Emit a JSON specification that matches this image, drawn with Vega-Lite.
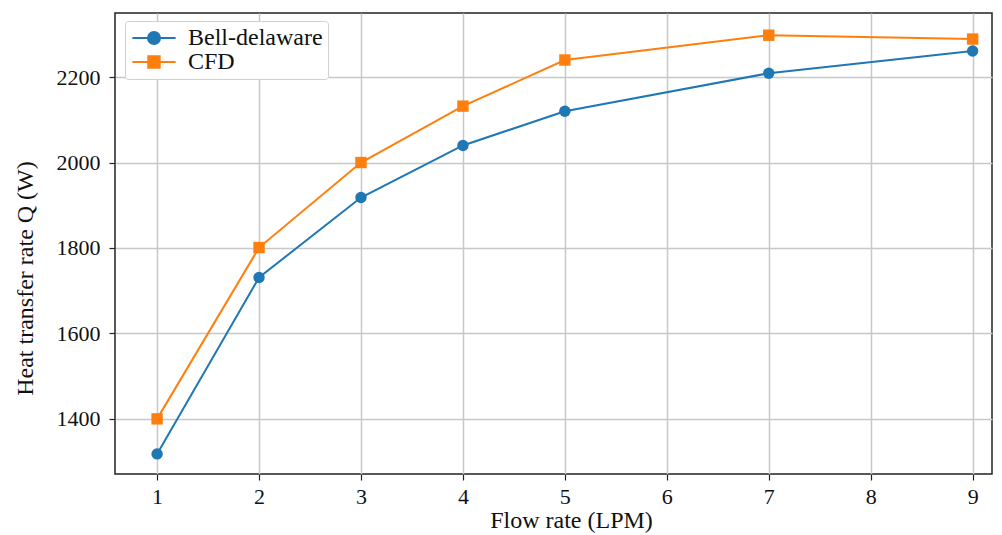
{
  "$schema": "https://vega.github.io/schema/vega-lite/v6.json",
  "width": 877,
  "height": 461,
  "autosize": {"type": "none"},
  "padding": {"left": 115, "top": 13, "right": 10, "bottom": 61},
  "background": "white",
  "config": {
    "font": "Liberation Serif",
    "view": {"stroke": "#222", "strokeWidth": 1.5},
    "axis": {
      "labelFont": "Liberation Serif",
      "titleFont": "Liberation Serif",
      "labelFontSize": 22,
      "titleFontSize": 24,
      "titleFontWeight": "normal",
      "labelColor": "#111",
      "titleColor": "#111",
      "gridColor": "#c8c8c8",
      "gridWidth": 1.5,
      "tickColor": "#222",
      "tickSize": 6,
      "tickWidth": 1.2,
      "domain": false
    }
  },
  "data": {
    "values": [
      {"flow": 1, "q": 1318, "method": "Bell-delaware"},
      {"flow": 2, "q": 1731, "method": "Bell-delaware"},
      {"flow": 3, "q": 1918, "method": "Bell-delaware"},
      {"flow": 4, "q": 2040, "method": "Bell-delaware"},
      {"flow": 5, "q": 2120, "method": "Bell-delaware"},
      {"flow": 7, "q": 2209, "method": "Bell-delaware"},
      {"flow": 9, "q": 2261, "method": "Bell-delaware"},
      {"flow": 1, "q": 1400, "method": "CFD"},
      {"flow": 2, "q": 1801, "method": "CFD"},
      {"flow": 3, "q": 2000, "method": "CFD"},
      {"flow": 4, "q": 2132, "method": "CFD"},
      {"flow": 5, "q": 2240, "method": "CFD"},
      {"flow": 7, "q": 2298, "method": "CFD"},
      {"flow": 9, "q": 2289, "method": "CFD"}
    ]
  },
  "encoding": {
    "x": {
      "field": "flow", "type": "quantitative",
      "scale": {"domain": [0.587, 9.19], "nice": false, "zero": false},
      "axis": {"values": [1, 2, 3, 4, 5, 6, 7, 8, 9], "title": "Flow rate (LPM)", "labelPadding": 6, "titleX": 456, "titleY": 53, "titleBaseline": "alphabetic", "titleAlign": "center", "format": "d"}
    },
    "y": {
      "field": "q", "type": "quantitative",
      "scale": {"domain": [1271, 2350], "nice": false, "zero": false},
      "axis": {"values": [1400, 1600, 1800, 2000, 2200], "title": "Heat transfer rate Q (W)", "labelPadding": 9, "titleX": -83, "titleY": 265, "titleAngle": -90, "titleAlign": "center", "titleBaseline": "alphabetic", "format": "d"}
    }
  },
  "layer": [
    {
      "mark": {"type": "line", "strokeWidth": 2},
      "encoding": {
        "color": {
          "field": "method", "type": "nominal",
          "scale": {"domain": ["Bell-delaware", "CFD"], "range": ["#1f77b4", "#ff7f0e"]},
          "legend": {
            "title": null,
            "orient": "none",
            "legendX": 10,
            "legendY": 8,
            "labelFont": "Liberation Serif",
            "labelFontSize": 24,
            "labelColor": "#111",
            "symbolSize": 144,
            "symbolStrokeWidth": 2,
            "symbolOpacity": 1,
            "symbolOffset": 12,
            "symbolType": {"expr": "datum.value === 'CFD' ? 'M-3.6,0H3.6M-0.95,-0.95H0.95V0.95H-0.95Z' : 'M-3.6,0H3.6M1,0A1,1,0,1,1,-1,0A1,1,0,1,1,1,0Z'"},
            "labelOffset": 22,
            "rowPadding": 0,
            "padding": 5,
            "strokeColor": "#d0d0d0",
            "fillColor": "white",
            "cornerRadius": 3,
            "encode": {
              "symbols": {
                "update": {
                  "fill": {"signal": "datum.value === 'CFD' ? '#ff7f0e' : '#1f77b4'"},
                  "fillOpacity": {"value": 1}
                }
              }
            }
          }
        }
      }
    },
    {
      "transform": [{"filter": "datum.method === 'Bell-delaware'"}],
      "mark": {"type": "point", "filled": true, "opacity": 1, "shape": "circle", "color": "#1f77b4", "size": 130}
    },
    {
      "transform": [{"filter": "datum.method === 'CFD'"}],
      "mark": {"type": "point", "filled": true, "opacity": 1, "shape": "square", "color": "#ff7f0e", "size": 130}
    }
  ]
}
